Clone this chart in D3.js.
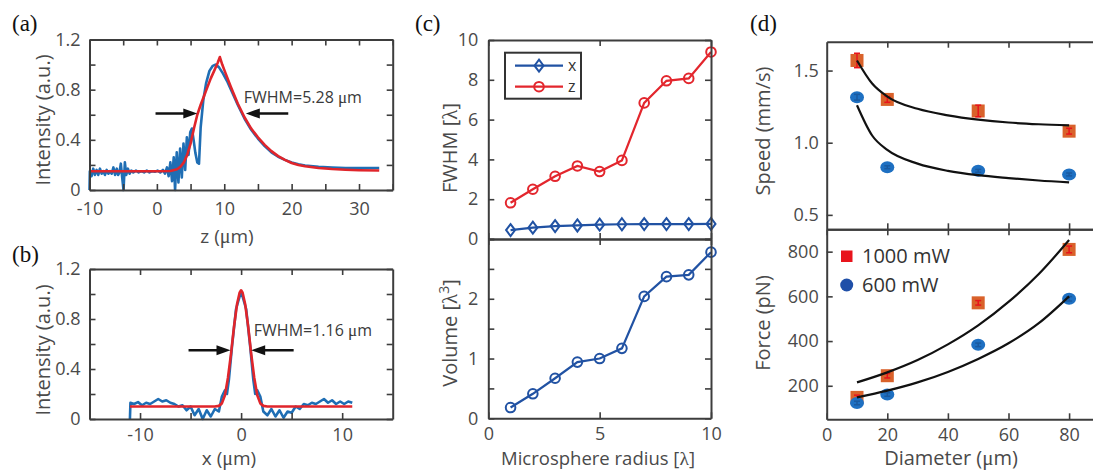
<!DOCTYPE html>
<html>
<head>
<meta charset="utf-8">
<script src="https://cdn.jsdelivr.net/npm/d3@7"></script>
<style>
  body { margin: 0; background: #fff; }
</style>
</head>
<body>
<div id="chart"></div>
<script>
// ---------- data ----------
// (a) axial intensity profile, z in um
const aBlue = [[-10,0.0],[-9.95,0.15],[-9.7,0.11],[-9.45,0.17],[-9.2,0.12],[-8.95,0.16],[-8.7,0.12],[-8.45,0.17],
  [-8.2,0.13],[-7.95,0.15],[-7.7,0.12],[-7.45,0.16],[-7.2,0.13],[-6.95,0.15],[-6.7,0.13],[-6.45,0.18],[-6.2,0.12],
  [-5.95,0.17],[-5.75,0.12],[-5.55,0.14],[-5.35,0.21],[-5.15,0.1],[-4.95,0.0],[-4.75,0.22],[-4.55,0.12],[-4.3,0.17],
  [-4.05,0.13],[-3.8,0.155],[-3.5,0.14],[-3.1,0.155],[-2.7,0.14],[-2.3,0.15],[-1.9,0.14],[-1.5,0.155],[-1.1,0.14],
  [-0.7,0.15],[-0.3,0.145],[0.1,0.155],[0.5,0.14],[0.9,0.16],[1.2,0.13],[1.5,0.18],[1.75,0.11],[2.0,0.22],[2.25,0.07],
  [2.5,0.26],[2.7,0.0],[2.95,0.3],[3.2,0.06],[3.45,0.33],[3.7,0.1],[3.95,0.37],[4.2,0.16],[4.45,0.42],[4.7,0.28],
  [4.95,0.46],[5.2,0.49],[5.45,0.4],[5.7,0.3],[6.0,0.22],[6.25,0.21],[6.5,0.5],[6.9,0.72],[7.3,0.85],[7.8,0.95],
  [8.3,0.99],[8.7,1.0],[9.2,0.98],[9.8,0.93],[10.5,0.86],[11,0.8],[12,0.68],[13,0.57],[14,0.48],[15,0.41],[16,0.35],
  [17,0.3],[18,0.265],[19,0.24],[20,0.22],[21,0.205],[22,0.195],[24,0.185],[26,0.18],[28,0.175],[30,0.175],[33,0.175]];
const aRed = [[-10,0.15],[-5,0.15],[0,0.15],[2,0.152],[3,0.165],[3.5,0.185],[4,0.22],[4.5,0.28],[5,0.37],[5.5,0.49],
  [6,0.6],[6.5,0.68],[7,0.75],[7.5,0.82],[8,0.89],[8.5,0.95],[9,1.01],[9.35,1.06],[9.7,1.0],[10.2,0.93],[11,0.82],
  [12,0.69],[13,0.58],[14,0.49],[15,0.42],[16,0.36],[17,0.31],[18,0.27],[19,0.24],[20,0.215],[21,0.2],[22,0.19],
  [24,0.175],[26,0.167],[28,0.162],[30,0.158],[33,0.155]];
const aArrowY = 0.61, aArrowL = [-0.2, 6.0], aArrowR = [19.5, 13.2];
const aNote = { x: 12.9, y: 0.74, text: 'FWHM=5.28 μm' };

// (b) lateral intensity profile, x in um
const bBlue = [[-11,0.0],[-10.95,0.13],[-10.6,0.12],[-10.2,0.135],[-9.8,0.11],[-9.4,0.13],[-9.0,0.12],[-8.6,0.14],
  [-8.2,0.16],[-7.8,0.14],[-7.4,0.15],[-7.0,0.13],[-6.6,0.12],[-6.2,0.1],[-5.8,0.11],[-5.4,0.07],[-5.0,0.1],
  [-4.6,0.03],[-4.2,0.08],[-3.8,0.0],[-3.4,0.07],[-3.0,0.02],[-2.6,0.08],[-2.2,0.06],[-1.9,0.18],[-1.6,0.23],
  [-1.4,0.2],[-1.2,0.32],[-0.9,0.58],[-0.5,0.88],[0,1.02],[0.5,0.88],[0.9,0.58],[1.2,0.32],[1.4,0.2],[1.6,0.23],
  [1.9,0.18],[2.2,0.06],[2.6,0.03],[3.0,0.08],[3.4,0.02],[3.8,0.07],[4.2,0.01],[4.6,0.06],[5.0,0.05],[5.4,0.1],
  [5.8,0.08],[6.2,0.12],[6.6,0.11],[7.0,0.13],[7.4,0.12],[7.8,0.14],[8.2,0.16],[8.6,0.13],[9.0,0.15],[9.4,0.12],
  [9.8,0.14],[10.2,0.12],[10.6,0.14],[11,0.13]];
const bRed = [[-11,0.1],[-2.6,0.1],[-2.2,0.105],[-1.9,0.125],[-1.6,0.19],[-1.3,0.33],[-1.0,0.52],[-0.7,0.74],
  [-0.4,0.92],[-0.15,1.01],[0,1.03],[0.15,1.01],[0.4,0.92],[0.7,0.74],[1.0,0.52],[1.3,0.33],[1.6,0.19],[1.9,0.125],
  [2.2,0.105],[2.6,0.1],[11,0.1]];
const bArrowY = 0.55, bArrowL = [-5.2, -1.05], bArrowR = [5.2, 1.0];
const bNote = { x: 1.26, y: 0.71, text: 'FWHM=1.16 μm' };

// (c) FWHM and volume vs microsphere radius
const radius = [1, 2, 3, 4, 5, 6, 7, 8, 9, 10];
const fwhmX = [0.45, 0.57, 0.65, 0.68, 0.72, 0.74, 0.75, 0.75, 0.75, 0.76];
const fwhmZ = [1.82, 2.5, 3.15, 3.67, 3.39, 3.95, 6.84, 7.95, 8.07, 9.4];
const volume = [0.18, 0.41, 0.67, 0.94, 1.0, 1.17, 2.04, 2.37, 2.4, 2.78];

// (d) speed and force vs diameter
const diameter = [10, 20, 50, 80];
const speed1000 = [1.57, 1.30, 1.22, 1.08];
const speed600 = [1.315, 0.83, 0.805, 0.78];
const speed1000Err = [0.05, 0.02, 0.04, 0.02];
const speed600Err = [0.02, 0.01, 0.01, 0.01];
const force1000 = [148, 245, 571, 810];
const force600 = [123, 161, 383, 589];
const force1000Err = [10, 10, 10, 15];
const force600Err = [8, 8, 8, 10];
const speedFit1000 = [[10,1.57],[15,1.41],[20,1.32],[30,1.235],[40,1.19],[50,1.16],[60,1.14],[70,1.128],[80,1.12]];
const speedFit600 = [[10,1.26],[15,1.05],[20,0.95],[30,0.855],[40,0.805],[50,0.775],[60,0.755],[70,0.738],[80,0.725]];
const forceFit1000 = [[10,215],[20,260],[30,315],[40,385],[50,470],[60,575],[70,700],[80,852]];
const forceFit600 = [[10,148],[20,178],[30,215],[40,262],[50,320],[60,390],[70,480],[80,600]];

// ---------- drawing ----------
const W = 1093, H = 472;
const AX = '#3d3d3d', TXT = '#4a4a4a';
const FONT = '"Open Sans", sans-serif';
const SERIF = '"Liberation Serif", serif';
const BLUE = '#1f6eb4', RED = '#e0252b';
const CBLUE = '#2152a3', CRED = '#e3262d';

const svg = d3.select('#chart').append('svg')
  .attr('width', W).attr('height', H)
  .style('display', 'block');
svg.append('rect').attr('width', W).attr('height', H).attr('fill', '#fff');

// text with greek letters drawn in a serif face, like the original symbol font
function richText(sel, str, size) {
  str.split(/([μλ])/).filter(Boolean).forEach(part => {
    const t = sel.append('tspan').text(part);
    if (part === 'μ' || part === 'λ') t.attr('font-family', SERIF).attr('font-size', size + 1);
  });
  return sel;
}

function axes(x, y, o) {
  const g = svg.append('g');
  const [x0, x1] = x.range();
  const [y0, y1] = y.range();
  const mk = (axis, ticks, labels, fmt) => axis.tickValues(ticks)
    .tickSizeInner(-6).tickSizeOuter(0)
    .tickFormat(d => labels && labels.includes(d) ? fmt(d) : '');

  g.append('g').attr('transform', `translate(0,${y0})`)
    .call(mk(d3.axisBottom(x), o.xt, o.xl, o.xf || String).tickPadding(o.xpad || 10));
  g.append('g').attr('transform', `translate(0,${y1})`)
    .call(mk(d3.axisTop(x), o.xt, null));
  g.append('g').attr('transform', `translate(${x0},0)`)
    .call(mk(d3.axisLeft(y), o.yt, o.yl, o.yf || String).tickPadding(o.ypad || 8));
  g.append('g').attr('transform', `translate(${x1},0)`)
    .call(mk(d3.axisRight(y), o.yt, null));

  g.selectAll('.domain').attr('stroke', AX).attr('stroke-width', 2);
  g.selectAll('.tick line').attr('stroke', AX).attr('stroke-width', 1.6);
  g.selectAll('.tick text')
    .attr('fill', TXT).attr('font-size', 18).attr('font-family', FONT);
  return g;
}

function xLabel(cx, y, str, size = 19) {
  const t = svg.append('text')
    .attr('x', cx).attr('y', y)
    .attr('text-anchor', 'middle')
    .attr('fill', TXT).attr('font-size', size).attr('font-family', FONT);
  return richText(t, str, size);
}

function yLabel(cx, cy, str) {
  const t = svg.append('text')
    .attr('transform', `translate(${cx},${cy}) rotate(-90)`)
    .attr('dy', '0.35em')
    .attr('text-anchor', 'middle')
    .attr('fill', TXT).attr('font-size', 20).attr('font-family', FONT);
  return richText(t, str, 20);
}

function panelTag(x, y, s) {
  svg.append('text').attr('x', x).attr('y', y)
    .attr('fill', '#111').attr('font-size', 23).attr('font-family', SERIF)
    .text(s);
}

function arrow(x1, x2, y) {
  const dir = Math.sign(x2 - x1);
  svg.append('line')
    .attr('x1', x1).attr('y1', y).attr('x2', x2 - dir * 10).attr('y2', y)
    .attr('stroke', '#111').attr('stroke-width', 2.5);
  svg.append('path')
    .attr('d', `M${x2},${y} L${x2 - dir * 14},${y - 5} L${x2 - dir * 14},${y + 5} Z`)
    .attr('fill', '#111');
}

const lineOf = (x, y) => d3.line().x(d => x(d[0])).y(d => y(d[1]));

// ===== (a) =====
{
  const x = d3.scaleLinear().domain([-10, 35]).range([89.5, 392.7]);
  const y = d3.scaleLinear().domain([0, 1.2]).range([190, 39.5]);
  svg.append('path').datum(aBlue).attr('d', lineOf(x, y))
    .attr('fill', 'none').attr('stroke', BLUE).attr('stroke-width', 2.6).attr('stroke-linejoin', 'round');
  svg.append('path').datum(aRed).attr('d', lineOf(x, y))
    .attr('fill', 'none').attr('stroke', RED).attr('stroke-width', 2.6).attr('stroke-linejoin', 'round');
  axes(x, y, {
    xt: d3.range(-10, 35.1, 5), xl: [-10, 0, 10, 20, 30], xpad: 12,
    yt: [0, 0.2, 0.4, 0.6, 0.8, 1.0, 1.2], yl: [0, 0.4, 0.8, 1.2],
    yf: d => d === 0 ? '0' : d.toFixed(1), ypad: 9
  });
  arrow(x(aArrowL[0]), x(aArrowL[1]), y(aArrowY));
  arrow(x(aArrowR[0]), x(aArrowR[1]), y(aArrowY));
  richText(svg.append('text').attr('x', x(aNote.x)).attr('y', y(aNote.y)).attr('dy', '0.35em')
    .attr('fill', '#3a3a3a').attr('font-size', 16).attr('font-family', FONT), aNote.text, 16);
  xLabel(227, 243, 'z (μm)');
  yLabel(43, 120, 'Intensity (a.u.)');
  panelTag(12, 31, '(a)');
}

// ===== (b) =====
{
  const x = d3.scaleLinear().domain([-15, 15]).range([89.5, 392.7]);
  const y = d3.scaleLinear().domain([0, 1.2]).range([419, 269]);
  svg.append('path').datum(bBlue).attr('d', lineOf(x, y))
    .attr('fill', 'none').attr('stroke', BLUE).attr('stroke-width', 2.6).attr('stroke-linejoin', 'round');
  svg.append('path').datum(bRed).attr('d', lineOf(x, y))
    .attr('fill', 'none').attr('stroke', RED).attr('stroke-width', 2.6).attr('stroke-linejoin', 'round');
  axes(x, y, {
    xt: [-10, -5, 0, 5, 10], xl: [-10, 0, 10], xpad: 9,
    yt: [0, 0.2, 0.4, 0.6, 0.8, 1.0, 1.2], yl: [0, 0.4, 0.8, 1.2],
    yf: d => d === 0 ? '0' : d.toFixed(1), ypad: 9
  });
  arrow(x(bArrowL[0]), x(bArrowL[1]), y(bArrowY));
  arrow(x(bArrowR[0]), x(bArrowR[1]), y(bArrowY));
  richText(svg.append('text').attr('x', x(bNote.x)).attr('y', y(bNote.y)).attr('dy', '0.35em')
    .attr('fill', '#3a3a3a').attr('font-size', 16).attr('font-family', FONT), bNote.text, 16);
  xLabel(229, 465, 'x (μm)');
  yLabel(43, 350, 'Intensity (a.u.)');
  panelTag(12, 262, '(b)');
}

// ===== (c) =====
{
  const x = d3.scaleLinear().domain([0, 10]).range([488.3, 711]);
  const yU = d3.scaleLinear().domain([0, 10]).range([239, 40]);
  const yL = d3.scaleLinear().domain([0, 3]).range([418.3, 239]);

  const diamond = (g, cx, cy, col) => g.append('path')
    .attr('d', `M${cx},${cy - 6} L${cx + 4.5},${cy} L${cx},${cy + 6} L${cx - 4.5},${cy} Z`)
    .attr('fill', 'none').attr('stroke', col).attr('stroke-width', 2);
  const ring = (g, cx, cy, col) => g.append('circle')
    .attr('cx', cx).attr('cy', cy).attr('r', 4.8)
    .attr('fill', 'none').attr('stroke', col).attr('stroke-width', 2);

  const series = (xs, ys, yS, col, mark) => {
    const pts = xs.map((v, i) => [v, ys[i]]);
    svg.append('path').datum(pts).attr('d', lineOf(x, yS))
      .attr('fill', 'none').attr('stroke', col).attr('stroke-width', 2.2);
    pts.forEach(p => mark(svg, x(p[0]), yS(p[1]), col));
  };
  series(radius, fwhmZ, yU, CRED, ring);
  series(radius, fwhmX, yU, CBLUE, diamond);
  series(radius, volume, yL, CBLUE, ring);

  axes(x, yU, { xt: [0, 5, 10], xl: null, yt: [0, 2, 4, 6, 8, 10], yl: [0, 2, 4, 6, 8, 10], ypad: 10 });
  axes(x, yL, { xt: [0, 5, 10], xl: [0, 5, 10], xpad: 9,
    yt: [0, 0.5, 1, 1.5, 2, 2.5, 3], yl: [0, 1, 2], ypad: 10 });

  // legend
  const lg = svg.append('g');
  lg.append('rect').attr('x', 505).attr('y', 52.7).attr('width', 76).attr('height', 46)
    .attr('fill', '#fff').attr('stroke', '#333').attr('stroke-width', 2);
  [[CBLUE, diamond, 'x', 65.7], [CRED, ring, 'z', 86.7]].forEach(([col, mark, lab, ly]) => {
    lg.append('line').attr('x1', 515).attr('x2', 563).attr('y1', ly).attr('y2', ly)
      .attr('stroke', col).attr('stroke-width', 2.2);
    mark(lg, 539, ly, col);
    lg.append('text').attr('x', 568).attr('y', ly).attr('dy', '0.35em')
      .attr('fill', '#333').attr('font-size', 16).attr('font-family', FONT).text(lab);
  });

  xLabel(598, 465, 'Microsphere radius [λ]', 18.5);
  yLabel(450, 148, 'FWHM [λ]');
  const vl = svg.append('text')
    .attr('transform', 'translate(450,333) rotate(-90)')
    .attr('dy', '0.35em').attr('text-anchor', 'middle')
    .attr('fill', TXT).attr('font-size', 20).attr('font-family', FONT);
  vl.append('tspan').text('Volume [');
  vl.append('tspan').attr('font-family', SERIF).attr('font-size', 21).text('λ');
  vl.append('tspan').attr('dy', -8).attr('font-size', 14).text('3');
  vl.append('tspan').attr('dy', 8).text(']');
  panelTag(415, 31, '(c)');
}

// ===== (d) =====
{
  const x = d3.scaleLinear().domain([0, 90]).range([826.7, 1099.4]);
  const yU = d3.scaleLinear().domain([0.4, 1.7]).range([229.3, 41.7]);
  const yL = d3.scaleLinear().domain([50, 900]).range([419.3, 229.3]);
  const SQ = '#d9622b', CI = '#1e70c2';

  const square = (cx, cy) => svg.append('rect')
    .attr('x', cx - 6.5).attr('y', cy - 6.5).attr('width', 13).attr('height', 13).attr('fill', SQ);
  const dot = (cx, cy) => svg.append('ellipse')
    .attr('cx', cx).attr('cy', cy).attr('rx', 7).attr('ry', 6).attr('fill', CI);
  const errbar = (cx, ylo, yhi, col) => {
    svg.append('line').attr('x1', cx).attr('x2', cx).attr('y1', ylo).attr('y2', yhi)
      .attr('stroke', col).attr('stroke-width', 1.5);
    [ylo, yhi].forEach(yy => svg.append('line').attr('x1', cx - 3).attr('x2', cx + 3)
      .attr('y1', yy).attr('y2', yy).attr('stroke', col).attr('stroke-width', 1.5));
  };

  const fit = (pts, yS) => svg.append('path').datum(pts)
    .attr('d', lineOf(x, yS).curve(d3.curveMonotoneX))
    .attr('fill', 'none').attr('stroke', '#111').attr('stroke-width', 2.2);

  const plot = (vals, errs, yS, mark, col) => diameter.forEach((dd, i) => {
    mark(x(dd), yS(vals[i]));
    errbar(x(dd), yS(vals[i] - errs[i]), yS(vals[i] + errs[i]), col);
  });

  plot(speed1000, speed1000Err, yU, square, '#e8141c');
  plot(speed600, speed600Err, yU, dot, '#1a5aa0');
  fit(speedFit1000, yU);
  fit(speedFit600, yU);

  plot(force1000, force1000Err, yL, square, '#e8141c');
  plot(force600, force600Err, yL, dot, '#1a5aa0');
  fit(forceFit1000, yL);
  fit(forceFit600, yL);

  axes(x, yU, { xt: [20, 40, 60, 80], xl: null,
    yt: [0.5, 1.0, 1.5], yl: [0.5, 1.0, 1.5], yf: d => d.toFixed(1), ypad: 8 });
  axes(x, yL, { xt: [0, 20, 40, 60, 80], xl: [0, 20, 40, 60, 80], xpad: 9,
    yt: [200, 400, 600, 800], yl: [200, 400, 600, 800], ypad: 8 });

  // legend
  svg.append('rect').attr('x', 841).attr('y', 250.5).attr('width', 11.5).attr('height', 11.5).attr('fill', '#e8141c');
  svg.append('text').attr('x', 862).attr('y', 256).attr('dy', '0.35em')
    .attr('fill', '#333').attr('font-size', 20).attr('font-family', FONT).text('1000 mW');
  svg.append('circle').attr('cx', 846.7).attr('cy', 285).attr('r', 6.5).attr('fill', '#1f4fa8');
  svg.append('text').attr('x', 862).attr('y', 285).attr('dy', '0.35em')
    .attr('fill', '#333').attr('font-size', 20).attr('font-family', FONT).text('600 mW');

  xLabel(951, 465, 'Diameter (μm)', 20);
  yLabel(763, 131, 'Speed (mm/s)');
  yLabel(763, 323, 'Force (pN)');
  panelTag(750, 31, '(d)');
}
</script>
</body>
</html>
